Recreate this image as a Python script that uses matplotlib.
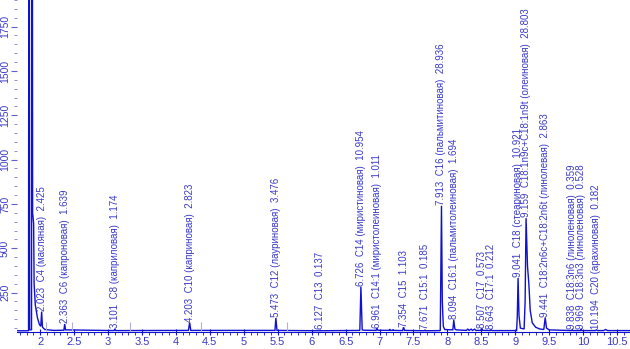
import matplotlib
matplotlib.use("Agg")
import matplotlib.pyplot as plt
from matplotlib.ticker import MultipleLocator

plt.rcParams['font.family'] = ['Liberation Sans', 'DejaVu Sans']

trace_time = [1.66, 1.830, 1.838, 1.846, 1.874, 1.882, 1.890, 1.905, 1.912, 1.93, 1.96, 1.99,
              2.01, 2.023, 2.035, 2.07, 2.2,
              2.35, 2.363, 2.375,
              3.09, 3.101, 3.115,
              4.185, 4.203, 4.22,
              5.46, 5.473, 5.49,
              6.12, 6.127, 6.135,
              6.71, 6.726, 6.745, 6.77,
              6.95, 6.961, 6.975,
              7.14, 7.15, 7.16, 7.19, 7.20, 7.21,
              7.34, 7.354, 7.37,
              7.66, 7.671, 7.68,
              7.895, 7.913, 7.925, 7.94, 7.96,
              8.08, 8.094, 8.11, 8.13,
              8.28, 8.30, 8.32, 8.35, 8.37, 8.40, 8.42,
              8.49, 8.507, 8.52,
              8.63, 8.643, 8.655,
              9.02, 9.03, 9.041, 9.055, 9.075, 9.13, 9.145, 9.159,
              9.18, 9.20, 9.22, 9.25, 9.30, 9.36,
              9.42, 9.441, 9.46, 9.50,
              9.83, 9.838, 9.85,
              9.96, 9.969, 9.98,
              10.18, 10.194, 10.21,
              10.30, 10.33, 10.36, 10.69]
trace_signal = [35, 35, 5000, 40, 40, 5000, 700, 640, 300, 180, 110, 70,
                60, 143, 55, 42, 37,
                38, 73, 40,
                36, 45, 36,
                37, 81, 37,
                37, 107, 37,
                35, 40, 35,
                37, 284, 40, 38,
                37, 50, 38,
                37, 44, 37, 37, 42, 37,
                36, 55, 37,
                35, 40, 35,
                36, 740, 200, 60, 42,
                40, 95, 45, 40,
                37, 45, 37, 44, 37, 44, 37,
                37, 48, 37,
                36, 42, 36,
                36, 120, 333, 120, 50, 45, 200, 670,
                400, 300, 150, 80, 55, 45,
                42, 110, 50, 40,
                36, 42, 36,
                36, 46, 36,
                36, 40, 36,
                36, 42, 36, 36]

# peak annotations
peak_times = [2.023, 2.363, 3.101, 4.203, 5.473, 6.127, 6.726, 6.961, 7.354, 7.671,
              7.913, 8.094, 8.507, 8.643, 9.041, 9.159, 9.441, 9.838, 9.969, 10.194]
peak_names = ["C4 (масляная)", "C6 (капроновая)", "C8 (каприловая)", "C10 (каприновая)",
              "C12 (лауриновая)", "C13", "C14 (миристиновая)", "C14:1 (миристолеиновая)",
              "C15", "C15:1", "C16 (пальмитиновая)", "C16:1 (пальмитолеиновая)",
              "C17", "C17:1", "C18 (стеариновая)", "C18:1n9c+C18:1n9t (олеиновая)",
              "C18:2n6c+C18:2n6t (линолевая)", "C18:3n6 (линоленовая)",
              "C18:3n3 (линоленовая)", "C20 (арахиновая)"]
peak_areas = ["2.425", "1.639", "1.174", "2.823", "3.476", "0.137", "10.954", "1.011",
              "1.103", "0.185", "28.936", "1.694", "0.573", "0.212", "10.921", "28.803",
              "2.863", "0.359", "0.528", "0.182"]
peak_heights = [143, 73, 45, 81, 107, 40, 284, 45, 55, 40,
                740, 95, 48, 42, 333, 670, 110, 42, 40, 40]

# integration event markers
marker_times = [2.09, 2.47, 3.32, 4.37, 5.63]

x_ticks = [2, 2.5, 3, 3.5, 4, 4.5, 5, 5.5, 6, 6.5, 7, 7.5, 8, 8.5, 9, 9.5, 10, 10.5]
x_tick_labels = ["2", "2.5", "3", "3.5", "4", "4.5", "5", "5.5", "6", "6.5", "7", "7.5",
                 "8", "8.5", "9", "9.5", "10", "10.5"]
y_ticks = [250, 500, 750, 1000, 1250, 1500, 1750]

line_color = "#1010d0"
text_color = "#3a3ac8"

fig = plt.figure(figsize=(6.3, 3.49), dpi=100)
ax = fig.add_axes([17 / 630, 17 / 349, 613 / 630, 332 / 349])
ax.set_xlim(1.66, 10.69)
ax.set_ylim(28, 1900)

ax.plot(trace_time, trace_signal, color=line_color, lw=1.0, solid_joinstyle='miter')
ax.vlines(marker_times, 35, 85, color="#b0b0d8", lw=0.8)

for t, name, area, h in zip(peak_times, peak_names, peak_areas, peak_heights):
    ax.text(t, h + 4, f"{t:.3f}  {name}  {area}", rotation=90, rotation_mode='anchor',
            ha='left', va='center', fontsize=7, color=text_color)

for s in ['top', 'right', 'left']:
    ax.spines[s].set_visible(False)
ax.spines['bottom'].set_color(line_color)

ax.set_xticks(x_ticks)
ax.set_xticklabels(x_tick_labels)
ax.xaxis.set_minor_locator(MultipleLocator(0.1))
ax.set_yticks(y_ticks)
ax.yaxis.set_minor_locator(MultipleLocator(50))
ax.tick_params(axis='x', which='major', direction='inout', length=5, color=line_color,
               labelcolor=text_color, labelsize=8, pad=1)
ax.tick_params(axis='x', which='minor', direction='out', length=2.5, color=line_color)
ax.tick_params(axis='y', which='major', direction='out', length=4, color="#6060d0",
               labelcolor=text_color, labelsize=7.5, labelrotation=90, pad=1)
ax.tick_params(axis='y', which='minor', direction='out', length=2, color="#8080d8")
for lbl in ax.get_yticklabels():
    lbl.set_va('center')

fig.savefig("out.png", dpi=100)
